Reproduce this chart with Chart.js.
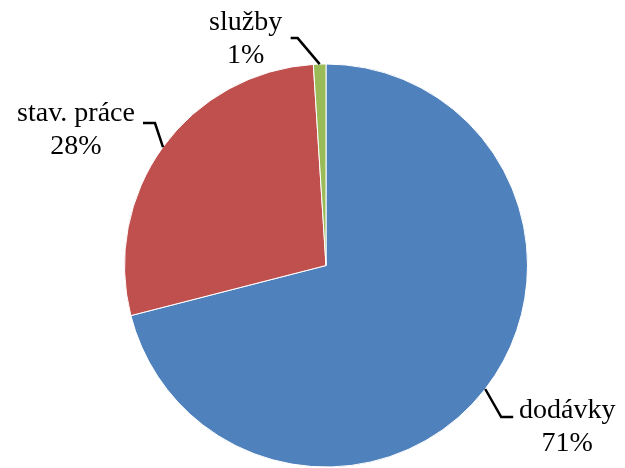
<!DOCTYPE html>
<html>
<head>
<meta charset="utf-8">
<script src="https://cdn.jsdelivr.net/npm/chart.js@4/dist/chart.umd.min.js"></script>
<style>
  html, body { margin: 0; padding: 0; background: #fff; }
  #wrap { width: 625px; height: 468px; }
</style>
</head>
<body>
<div id="wrap"><canvas id="myChart"></canvas></div>
<script>
// Categories and shares (percent)
const categories = ['dodávky', 'stav. práce', 'služby'];
const shares = [71, 28, 1];
const colors = ['#4F81BD', '#C0504D', '#9BBB59'];

// Label placement: elbow offset from the slice edge, line end, text centre
const labelPos = [
    { elbow: [16, 28], end: [28, 28], text: [82, 38] },
    { elbow: [-8, -24], end: [-20, -24], text: [-87, -17] },
    { elbow: [-22, -26], end: [-29, -26], text: [-74, -25] }
];

// Draws leader lines and two-line labels outside the pie
const outLabels = {
    id: 'outLabels',
    afterDatasetsDraw(chart) {
        const ctx = chart.ctx;
        const meta = chart.getDatasetMeta(0);
        meta.data.forEach(function(arc, i) {
            const mid = (arc.startAngle + arc.endAngle) / 2;
            const ex = arc.x + Math.cos(mid) * arc.outerRadius;
            const ey = arc.y + Math.sin(mid) * arc.outerRadius;
            const p = labelPos[i];
            ctx.save();
            ctx.strokeStyle = '#000';
            ctx.lineWidth = 2.5;
            ctx.beginPath();
            ctx.moveTo(ex, ey);
            ctx.lineTo(ex + p.elbow[0], ey + p.elbow[1]);
            ctx.lineTo(ex + p.end[0], ey + p.end[1]);
            ctx.stroke();
            ctx.fillStyle = '#000';
            ctx.font = '28px "Liberation Serif", "Times New Roman", serif';
            ctx.textAlign = 'center';
            ctx.textBaseline = 'middle';
            const tx = ex + p.text[0];
            const ty = ey + p.text[1];
            ctx.fillText(categories[i], tx, ty - 16);
            ctx.fillText(shares[i] + '%', tx, ty + 17);
            ctx.restore();
        });
    }
};

function renderChart() {
    var ctx = document.getElementById('myChart').getContext('2d');
    new Chart(ctx, {
        type: 'pie',
        data: {
            labels: categories,
            datasets: [{
                data: shares,
                backgroundColor: colors,
                borderColor: '#ffffff',
                borderWidth: 1
            }]
        },
        options: {
            responsive: true,
            maintainAspectRatio: false,
            animation: false,
            layout: {
                padding: { top: 63, bottom: 0, left: 124, right: 97 }
            },
            plugins: {
                legend: { display: false },
                tooltip: { enabled: false }
            }
        },
        plugins: [outLabels]
    });
}
renderChart();
</script>
</body>
</html>
